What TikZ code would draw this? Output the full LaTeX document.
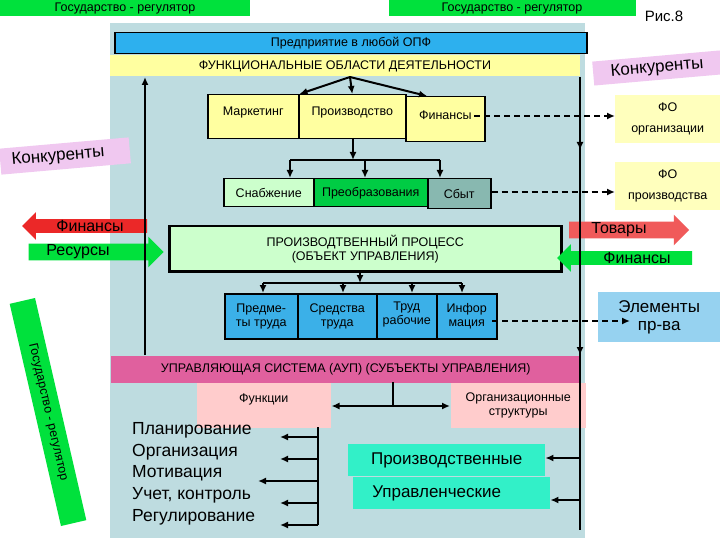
\documentclass[tikz,border=0pt]{standalone}
\usepackage{fontspec}
\setmainfont{Liberation Sans}
\usetikzlibrary{shapes.arrows,arrows.meta}
\definecolor{panel}{RGB}{190,220,224}
\definecolor{bbar}{RGB}{45,176,238}
\definecolor{yel}{RGB}{255,255,160}
\definecolor{gr}{RGB}{0,225,60}
\definecolor{lgr}{RGB}{204,255,204}
\definecolor{dgr}{RGB}{0,204,68}
\definecolor{teal}{RGB}{136,184,176}
\definecolor{blu}{RGB}{59,176,232}
\definecolor{pbar}{RGB}{224,96,158}
\definecolor{pnk}{RGB}{255,204,204}
\definecolor{cya}{RGB}{50,240,200}
\definecolor{lil}{RGB}{240,200,240}
\definecolor{lblu}{RGB}{150,210,240}
\definecolor{rd}{RGB}{235,40,40}
\definecolor{lrd}{RGB}{240,90,90}
\tikzset{
 bx/.style={draw=black,line width=1.5pt,inner sep=0pt,align=center,font=\fontsize{12.5}{14}\selectfont},
 ln/.style={line width=2pt,-{Latex[length=8pt,width=7pt]}},
 dl/.style={line width=2pt,dash pattern=on 6pt off 4pt,-{Latex[length=8pt,width=7pt]}},
 sa/.style={single arrow,single arrow head extend=7pt,single arrow head indent=0pt,inner sep=1pt,minimum height=#1,font=\fontsize{16}{17}\selectfont}
}
\begin{document}
\begin{tikzpicture}[x=1pt,y=-1pt]
\useasboundingbox (0,0) rectangle (720,540);
\fill[white] (0,0) rectangle (720,540);
% top
\node[bx,fill=gr,minimum width=250,minimum height=17,draw=none] (g1) at (125,8) {Государство - регулятор};
\node[bx,fill=gr,minimum width=247,minimum height=17,draw=none] (g2) at (512,8) {Государство - регулятор};
\node[font=\fontsize{15}{16}\selectfont] (ris) at (664,16) {Рис.8};
% panel
\fill[panel] (110,23) rectangle (585,538);
\node[bx,fill=bbar,minimum width=472,minimum height=21] (ent) at (351,43) {Предприятие в любой ОПФ};
\node[bx,fill=yel,minimum width=470,minimum height=21,draw=none] (fun) at (345,66) {ФУНКЦИОНАЛЬНЫЕ ОБЛАСТИ ДЕЯТЕЛЬНОСТИ};
% competitors
\node[fill=lil,rotate=5,minimum width=128,minimum height=24,font=\fontsize{17}{18}\selectfont] (k1) at (657,68) {Конкуренты};
\node[fill=lil,rotate=5,minimum width=130,minimum height=26,font=\fontsize{17}{18}\selectfont,align=left] (k2) at (65,156) {Конкуренты\hspace*{14pt}};
% functional boxes
\node[bx,fill=yel,minimum width=91,minimum height=44,anchor=north west] (mk) at (207,94) {\raisebox{12pt}{Маркетинг}};
\node[bx,fill=yel,minimum width=107,minimum height=44,anchor=north west] (pr) at (298,94) {\raisebox{12pt}{Производство}};
\node[bx,fill=yel,minimum width=79,minimum height=45,anchor=north west] (fi) at (405,96) {\raisebox{8pt}{Финансы}};
\node[bx,fill=lgr,minimum width=90,minimum height=28,anchor=north west] (sn) at (223,178) {Снабжение};
\node[bx,fill=dgr,minimum width=114,minimum height=28,anchor=north west] (pb) at (313,178) {Преобразования};
\node[bx,fill=teal,minimum width=63,minimum height=30,anchor=north west] (sb) at (427,178) {Сбыт};
\node[bx,fill=lgr,minimum width=392,minimum height=45,anchor=north west,line width=2.5pt] (pp) at (168,225) {ПРОИЗВОДТВЕННЫЙ ПРОЦЕСС\\(ОБЪЕКТ УПРАВЛЕНИЯ)};
\node[bx,fill=blu,minimum width=73,minimum height=45,anchor=north west] (e1) at (224,293) {Предме-\\ты труда};
\node[bx,fill=blu,minimum width=79,minimum height=45,anchor=north west] (e2) at (297,293) {Средства\\труда};
\node[bx,fill=blu,minimum width=60,minimum height=45,anchor=north west] (e3) at (376,293) {\raisebox{6pt}{\shortstack{Труд\\рабочие}}};
\node[bx,fill=blu,minimum width=60,minimum height=45,anchor=north west] (e4) at (436,293) {Инфор\\мация};
\node[bx,fill=pbar,minimum width=470,minimum height=27,anchor=north west,draw=none] (us) at (110,355) {УПРАВЛЯЮЩАЯ СИСТЕМА (АУП) (СУБЪЕКТЫ УПРАВЛЕНИЯ)};
\node[bx,fill=pnk,minimum width=134,minimum height=45,anchor=north west,draw=none] (fn) at (196,382) {\raisebox{14pt}{Функции}};
\node[bx,fill=pnk,minimum width=135,minimum height=45,anchor=north west,draw=none] (os) at (450,382) {Организационные\\структуры};
\node[fill=cya,minimum width=197,minimum height=32,anchor=north west,font=\fontsize{17}{18}\selectfont] (c1) at (348,444) {Производственные};
\node[fill=cya,minimum width=197,minimum height=32,anchor=north west,font=\fontsize{17}{18}\selectfont,align=left] (c2) at (353,477) {Управленческие\hspace*{30pt}};
\node[align=left,anchor=north west,font=\fontsize{17.5}{21.8}\selectfont,inner sep=1pt] (fl) at (131,421) {Планирование\\Организация\\Мотивация\\Учет, контроль\\Регулирование};
% outside right
\node[fill=yel!70,minimum width=105,minimum height=48,align=center,anchor=north west,font=\fontsize{12.5}{21}\selectfont] (fo1) at (615,95) {ФО\\организации};
\node[fill=yel!70,minimum width=105,minimum height=48,align=center,anchor=north west,font=\fontsize{12.5}{21}\selectfont] (fo2) at (615,162) {ФО\\производства};
\node[fill=lblu,minimum width=122,minimum height=50,align=center,anchor=north west,font=\fontsize{17}{18}\selectfont] (el) at (598,292) {Элементы\\пр-ва};
% big arrows
\node[sa=125,fill=rd,shape border rotate=180,minimum width=20] (af) at (88,226) {\hspace*{4pt}Финансы};
\node[sa=135,fill=gr,minimum width=22] (ar) at (92,252) {Ресурсы\hspace*{28pt}};
\node[sa=120,fill=lrd,minimum width=22] (at) at (625,230) {Товары\hspace*{12pt}};
\node[sa=135,fill=gr,shape border rotate=180,minimum width=22] (afi) at (628,258) {\hspace*{18pt}Финансы};
% state bar rotated
\node[fill=gr,rotate=-77,minimum width=228,minimum height=26,font=\fontsize{12.5}{13}\selectfont] (st) at (48,412) {Государство - регулятор};
% connectors
\coordinate (fb) at (350,77);
\draw[ln] (fb) -- (mk.north east);
\draw[ln] (fb) -- (pr.north);
\draw[ln] (fb) -- ([xshift=22pt]fi.north west);
\draw[ln] (353,138) -- (353,160);
\draw[line width=2pt] (290,160) -- (440,160);
\draw[ln] (290,160) -- (290,178);
\draw[ln] (365,160) -- (365,178);
\draw[ln] (440,160) -- (440,178);
\draw[ln] (360,270) -- (360,283);
\draw[line width=2pt] (263,283) -- (462,283);
\foreach \x in {263,343,412,462} \draw[ln] (\x,283) -- (\x,293);
\draw[dl] (474,116) -- (fo1.west|-0,116);
\draw[dl] (sb.east|-0,192) -- (fo2.west|-0,192);
\draw[dl] (492,321) -- (630,321);
\draw[ln] (145,355) -- (145,77);
\draw[line width=2pt] (580,77) -- (580,530);
\draw[ln] (580,77) -- (580,150);
\draw[ln] (580,150) -- (580,355);
\draw[line width=2pt] (393,382) -- (393,406);
\draw[line width=2pt,{Latex[length=8pt,width=7pt]}-{Latex[length=8pt,width=7pt]}] (fn.east|-0,406) -- (os.west|-0,406);
\draw[line width=2pt] (318,427) -- (318,525);
\foreach \y/\e in {437/280,459/280,481/258,503/280,525/280} \draw[ln] (318,\y) -- (\e,\y);
\draw[ln] (580,458) -- (c1.east|-0,458);
\draw[ln] (580,500) -- (c2.east|-0,500);
\end{tikzpicture}
\end{document}
